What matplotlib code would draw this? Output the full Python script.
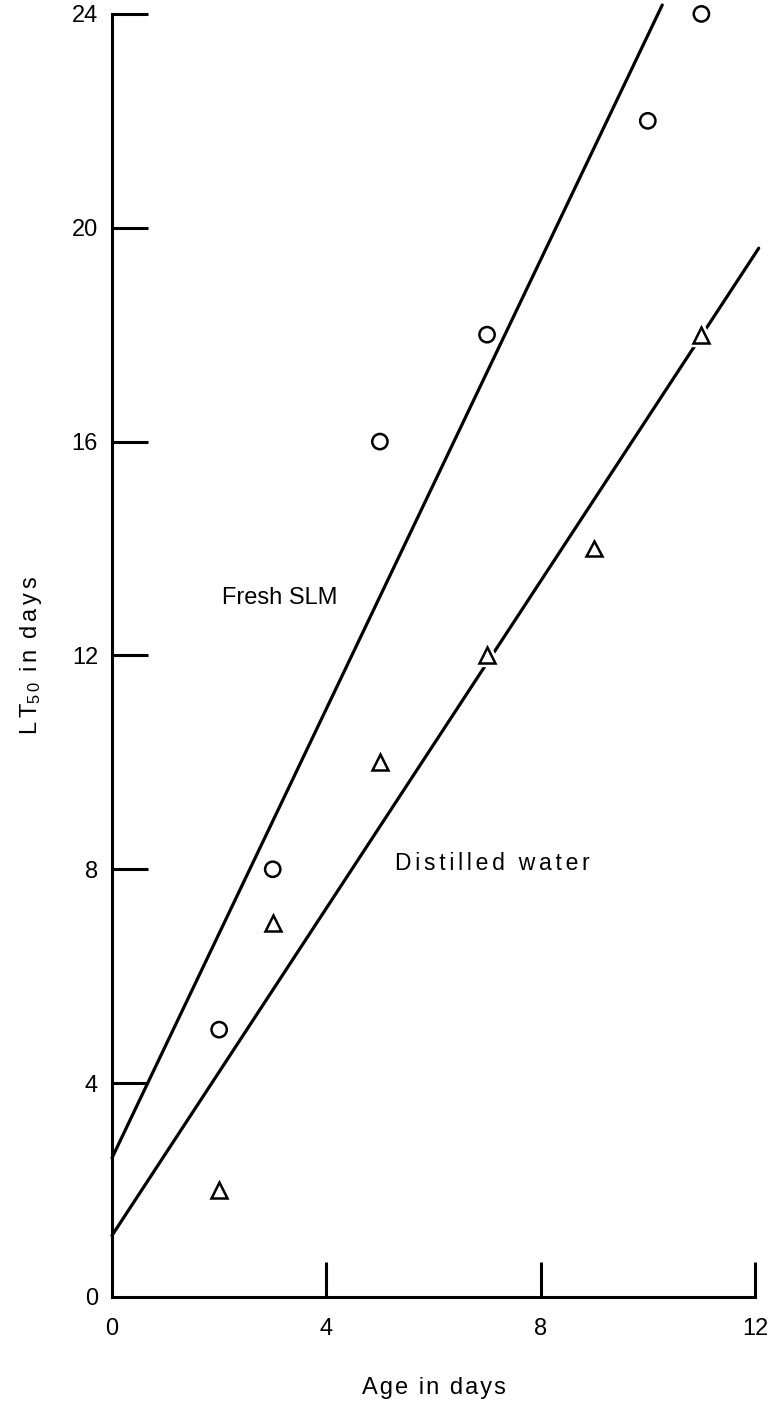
import matplotlib.pyplot as plt
import matplotlib.patheffects as pe

plt.rcParams['font.family'] = ['Liberation Sans', 'DejaVu Sans']
plt.rcParams['mathtext.fontset'] = 'custom'
plt.rcParams['mathtext.rm'] = 'Liberation Sans'
plt.rcParams['mathtext.it'] = 'Liberation Sans'

# LT50 vs age, two rearing media
age_fresh = [2, 3, 5, 7, 10, 11]
lt50_fresh = [5, 8, 16, 18, 22, 24]
age_water = [2, 3, 5, 7, 9, 11]
lt50_water = [2, 7, 10, 12, 14, 18]

# fitted lines (intercept, slope) and where each one stops on the x axis
fit_fresh = (2.6, 2.10)
fit_water = (1.15, 1.53)
end_fresh = 10.27
end_water = 12.07


def spaced(s, gap):
    # typewriter-style letter spacing
    return gap.join(s)


HAIR = '\u200a'
SIXTH = '\u2006'

fig = plt.figure(figsize=(7.76, 14.05), dpi=100)
ax = fig.add_axes([0.1443, 0.0769, 0.8286, 0.9132])

for (b, m), x_end in [(fit_fresh, end_fresh), (fit_water, end_water)]:
    ax.plot([0, x_end], [b, b + m * x_end], color='black', lw=2.3,
            solid_capstyle='round', clip_on=False, zorder=2)

halo = [pe.withStroke(linewidth=6, foreground='white')]
ax.plot(age_fresh, lt50_fresh, 'o', ms=11, mfc='white', mec='black', mew=1.8,
        clip_on=False, zorder=3, path_effects=halo)
ax.plot(age_water, lt50_water, '^', ms=11.5, mfc='white', mec='black', mew=1.8,
        clip_on=False, zorder=3, path_effects=halo)

ax.text(2.05, 13.07, 'Fresh SLM', fontsize=17, va='center', ha='left')
ax.text(5.28, 8.1, spaced('Distilled water', SIXTH), fontsize=16.5,
        va='center', ha='left')

ax.set_xlim(0, 12)
ax.set_ylim(0, 24)
ax.set_xticks([0, 4, 8, 12])
ax.set_yticks([0, 4, 8, 12, 16, 20, 24])

for s in ['top', 'right']:
    ax.spines[s].set_visible(False)
for s in ['left', 'bottom']:
    ax.spines[s].set_linewidth(2.2)

ax.tick_params(axis='both', direction='in', width=2.2, labelsize=17)
ax.tick_params(axis='y', length=26, pad=10)
ax.tick_params(axis='x', length=25, pad=15)
# no tick marks at the origin
ax.xaxis.get_major_ticks()[0].tick1line.set_visible(False)
ax.yaxis.get_major_ticks()[0].tick1line.set_visible(False)

ax.set_xlabel(spaced('Age in days', HAIR), fontsize=17, labelpad=27)
ylab = ('L' + SIXTH + 'T' + r'$_{5\,0}$' + ' ' + SIXTH + spaced('in', SIXTH)
        + ' ' + SIXTH + spaced('days', SIXTH))
ax.set_ylabel(ylab, fontsize=17, labelpad=20)

fig.savefig('out.png', dpi=100)
